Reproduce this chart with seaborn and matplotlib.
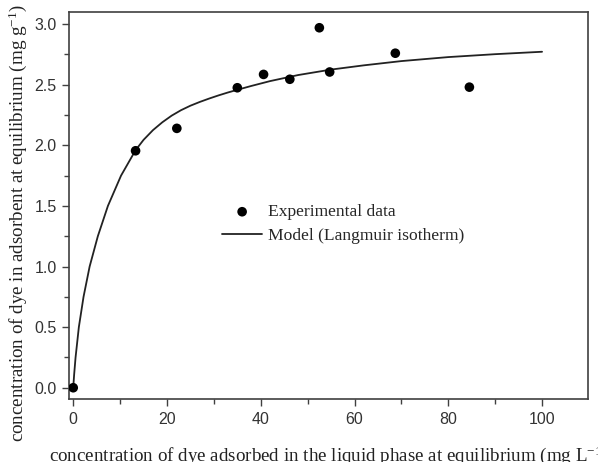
import numpy as np
import pandas as pd
import seaborn as sns
import matplotlib.pyplot as plt
from matplotlib.ticker import MultipleLocator, FormatStrFormatter

ce_exp = [0, 13.3, 22.1, 35.0, 40.6, 46.2, 52.5, 54.7, 68.7, 84.5]
qe_exp = [0, 1.955, 2.14, 2.475, 2.585, 2.545, 2.97, 2.605, 2.76, 2.48]

# Model curve (Langmuir isotherm)
ce_model = [0, 0.2, 0.5, 1.2, 2.2, 3.5, 5.25, 7.4, 10.2, 13.3, 15, 17, 19, 21,
            23, 25, 27, 29, 31, 33, 35, 38, 42, 48, 55, 62, 70, 80, 90, 100]
qe_model = [0, 0.11, 0.25, 0.5, 0.75, 1.0, 1.25, 1.5, 1.75, 1.96, 2.045, 2.125,
            2.19, 2.245, 2.29, 2.327, 2.358, 2.386, 2.412, 2.436, 2.458, 2.49,
            2.53, 2.58, 2.625, 2.66, 2.695, 2.728, 2.752, 2.772]

exp_df = pd.DataFrame({'Ce': ce_exp, 'qe': qe_exp})
model_df = pd.DataFrame({'Ce': ce_model, 'qe': qe_model})

sns.set_theme(style='ticks')
plt.rcParams['font.family'] = ['Liberation Sans', 'DejaVu Sans']
plt.rcParams['mathtext.fontset'] = 'custom'
plt.rcParams['mathtext.rm'] = 'Liberation Serif'
plt.rcParams['mathtext.it'] = 'Liberation Serif:italic'

serif = ['Liberation Serif', 'DejaVu Serif']
edge = '#404040'

fig = plt.figure(figsize=(5.98, 4.62), dpi=100)
ax = fig.add_axes([69 / 598, 1 - 399 / 462, 519 / 598, 387 / 462])

sns.lineplot(data=model_df, x='Ce', y='qe', ax=ax, color='#222222', lw=1.3,
             errorbar=None, sort=False, label='Model (Langmuir isotherm)')
sns.scatterplot(data=exp_df, x='Ce', y='qe', ax=ax, color='black', s=48,
                edgecolor='none', label='Experimental data', zorder=3)

ax.set_xlim(-0.9, 109.8)
ax.set_ylim(-0.093, 3.10)
ax.xaxis.set_major_locator(MultipleLocator(20))
ax.xaxis.set_minor_locator(MultipleLocator(10))
ax.yaxis.set_major_locator(MultipleLocator(0.5))
ax.yaxis.set_minor_locator(MultipleLocator(0.25))
ax.yaxis.set_major_formatter(FormatStrFormatter('%.1f'))

for s in ax.spines.values():
    s.set_visible(True)
    s.set_color(edge)
    s.set_linewidth(1.2)
ax.tick_params(which='major', direction='out', length=5, width=1.0,
               color=edge, labelsize=11.5, labelcolor='#333333', pad=4)
ax.tick_params(which='minor', direction='out', length=3.5, width=1.0, color=edge)
ax.tick_params(top=False, right=False, which='both')

# the reference crops both axis titles at the figure edge
ax.set_xlabel(r'concentration of dye adsorbed in the liquid phase at equilibrium (mg L$^{-1}$)',
              family=serif, fontsize=13.7, color='#222222', labelpad=13)
ax.set_ylabel(r'concentration of dye in adsorbent at equilibrium (mg g$^{-1}$)',
              family=serif, fontsize=13.7, color='#222222', labelpad=4)
ax.yaxis.label.set_y(0.4535)

handles, labels = ax.get_legend_handles_labels()
order = [labels.index('Experimental data'), labels.index('Model (Langmuir isotherm)')]
ax.legend([handles[i] for i in order], [labels[i] for i in order],
          loc='center left', bbox_to_anchor=((222 - 69) / 519, (399 - 224) / 387),
          frameon=False, borderpad=0, borderaxespad=0, handlelength=2.3,
          handletextpad=0.35, labelspacing=0.42, prop={'family': serif, 'size': 12.6})

fig.savefig('out.png', dpi=100)
